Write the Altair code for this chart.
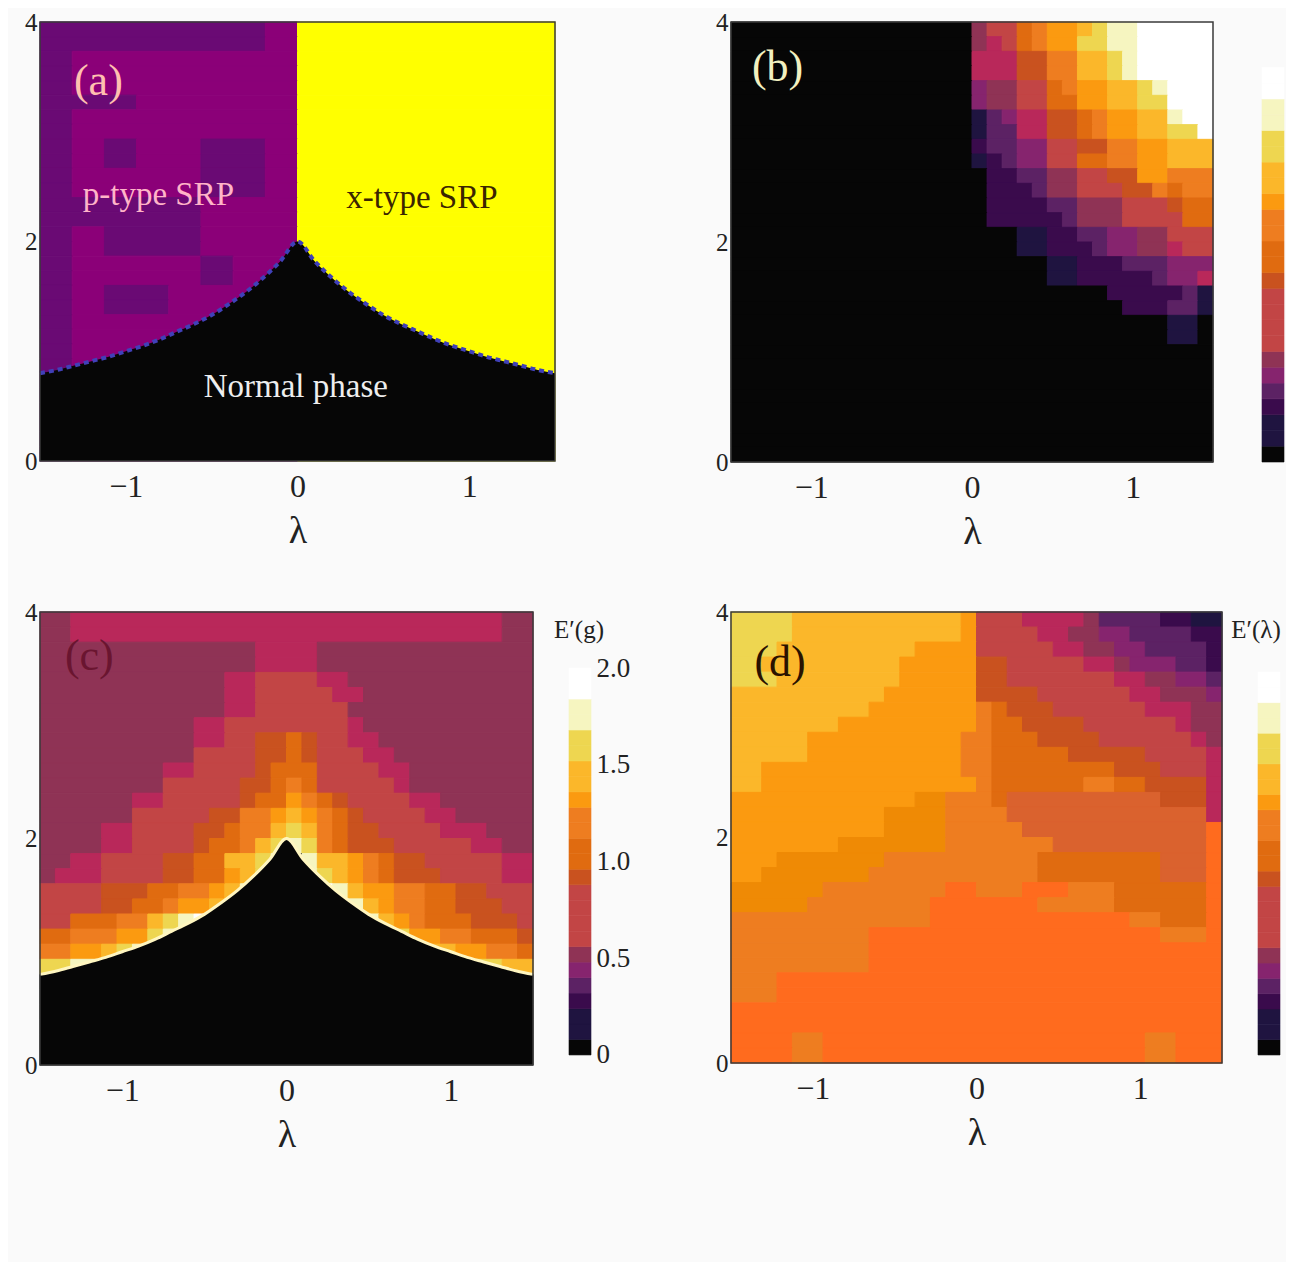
import altair as alt
import pandas as pd

PALETTE = {
    "0": "#060606", "1": "#1f1440", "2": "#3a0b4c", "3": "#5c2264", "4": "#86246e",
    "5": "#8f3355", "6": "#b9285a", "7": "#c24545", "8": "#c9521f", "9": "#e06b10",
    "a": "#ee7d20", "b": "#fb9a10", "c": "#fbb72a", "d": "#eed650", "e": "#f6f5c0",
    "f": "#ffffff", "g": "#ff6b1e", "h": "#ef8a05", "i": "#da622e",
    "p": "#6a0a74", "q": "#8b0078", "y": "#ffff00",
}
BG = "#fafafa"
FONT = "Liberation Serif"
INK = "#222222"

A_LEFT = [
    "ppppppppppppppqq", "ppppppppppppppqq", "ppqqqqqqqqqqqqqq", "ppqqqqqqqqqqqqqq",
    "ppqqqqqqqqqqqqqq", "ppppppqqqqqqqqqq", "ppqqqqqqqqqqqqqq", "ppqqqqqqqqqqqqqq",
    "ppqqppqqqqppppqq", "ppqqppqqqqppppqq", "ppqqqqqqqqppppqq", "ppqqqqqqqqppppqq",
    "ppppppppppqqqqqq", "ppppppppppqqqqqq", "ppqqppppppqqqqqq", "ppqqppppppqqqqqq",
    "ppqqqqqqqqppqqqq", "ppqqqqqqqqppqqqq", "ppqqppppqqqqqqqq", "ppqqppppqqqqqqqq",
    "ppqqqqqqqqqqqqqq", "ppqqqqqqqqqqqqqq", "ppqqqqqqqqqqqqqq", "ppqqqqqqqqqqqqqq",
    "ppqqqqqqqqqqqqqq", "ppqqqqqqqqqqqqqq", "ppqqqqqqqqqqqqqq", "ppqqqqqqqqqqqqqq",
    "ppqqqqqqqqqqqqqq", "ppqqqqqqqqqqqqqq",
]
A_RIGHT = "yyyyyyyyyyyyyyyy"

B_RIGHT = [
    "5779abbcdeefffff", "5679abbddeefffff", "66688aaccdefffff", "66688aaccdefffff",
    "455779abbccdefff", "4557799bbccddfff", "13466889abbcceff", "13366889abbccddf",
    "233447788aabbccc", "123447799aabbccc", "02233557788bbaaa", "022235577788a9aa",
    "0222233555777899", "0222223555777799", "0001122334455777", "0001122234455677",
    "0000011222333444", "0000011222223446", "0000000002222231", "0000000000222331",
    "0000000000000110", "0000000000000110",
]

C_ROWS = [
    "55666666666666666666666666666655", "55666666666666666666666666666655",
    "55555555555555666655555555555555", "55555555555555666655555555555555",
    "55555555555566777766555555555555", "55555555555566777776655555555555",
    "55555555555566777777555555555555", "55555555556677777777655555555555",
    "55555555556677889877665555555555", "55555555557777889877766555555555",
    "55555555667777899977776655555555", "5555555577777889a977777655555555",
    "5555556677777899ba98777766555555", "5555557777788aabcba9877776655555",
    "5555667777889aacdca9887777666555", "5555667777899acdeda9888777776655",
    "556677778899ccde0eccba9887777766", "566677778899bcde0edcba9888777766",
    "777788899aabce0000fecbbaa9988777", "77778899abbce000000fecbaa9988877",
    "77999aacdef000000000fecba9998887", "99aaabbdef00000000000fedbbaa9998",
    "aabbcdef00000000000000fedccbbaa9", "ddeeff000000000000000000ffeeddcc",
]

D_ROWS = [
    "ddddcccccccccccb7776666533332211", "ddddcccccccccccb7777665544333322",
    "dddcccccccccbbbb7777766554433332", "ddcccccccccbbbbb8877777665444332",
    "dddccccccccbbbbb8877777776655443", "ccccccccccbbbbbb8888777777665554",
    "cccccccccbbbbbbba988877777766655", "cccccccbbbbbbbbba998888777777655",
    "cccccbbbbbbbbbbaa999888877777765", "cccccbbbbbbbbbbaa999998888877776",
    "ccbbbbbbbbbbbbbaa999999998887776", "ccbbbbbbbbbbbbbba999999aa9988886",
    "bbbbbbbbbbbbhhaaa9iiiiiiiiii8886", "bbbbbbbbbbhhhhaaaaiiiiiiiiiiiii6",
    "bbbbbbbbbbhhhhaaaaaiiiiiiiiiiiig", "bbbbbbbhhhhhhhaaaaaaaiiiiiiiiiig",
    "bbbhhhhhhhaaaaaaaaaa99999999iiig", "bbhhhhhhhaaaaaaaaaaa99999999iiig",
    "hhhhhhaaaaaaaaggaaagggaaa999999g", "hhhhhaaaaaaaagggggggaaaaa999999g",
    "aaaaaaaaaaaaagggggggggggggaa999g", "aaaaaaaaagggggggggggggggggggaaag",
    "aaaaaaaaaggggggggggggggggggggggg", "aaaaaaaaaggggggggggggggggggggggg",
    "aaaggggggggggggggggggggggggggggg", "aaaggggggggggggggggggggggggggggg",
    "gggggggggggggggggggggggggggggggg", "gggggggggggggggggggggggggggggggg",
    "ggggaagggggggggggggggggggggaaggg", "ggggaagggggggggggggggggggggaaggg",
]

CBAR_LEVELS = "01123457777899aabccddeeff"

BOUNDARY_L = [-1.5, -1.4, -1.3, -1.2, -1.1, -1.0, -0.9, -0.8, -0.7, -0.6, -0.5, -0.4, -0.3, -0.2, -0.1, 0.0,
              0.1, 0.2, 0.3, 0.4, 0.5, 0.6, 0.7, 0.8, 0.9, 1.0, 1.1, 1.2, 1.3, 1.4, 1.5]
BOUNDARY_G = [0.80, 0.83, 0.87, 0.91, 0.95, 1.00, 1.05, 1.11, 1.18, 1.25, 1.33, 1.43, 1.54, 1.67, 1.82, 2.00,
              1.82, 1.67, 1.54, 1.43, 1.33, 1.25, 1.18, 1.11, 1.05, 1.00, 0.95, 0.91, 0.87, 0.83, 0.80]

a_rows = [r + A_RIGHT for r in A_LEFT]
b_rows = ["0" * 16 + r for r in B_RIGHT] + ["0" * 32] * (30 - len(B_RIGHT))
c_rows = C_ROWS + ["0" * 32] * (30 - len(C_ROWS))
d_rows = D_ROWS

ALL_KEYS = list(PALETTE)
color_scale = alt.Scale(domain=ALL_KEYS, range=[PALETTE[k] for k in ALL_KEYS])


def grid_frame(rows):
    ncol, nrow = 32, 30
    out = []
    for i, row in enumerate(rows):
        row = row[:ncol]
        j = 0
        while j < len(row):
            e = j
            while e + 1 < len(row) and row[e + 1] == row[j]:
                e += 1
            out.append({
                "l0": -1.5 + 3 * j / ncol, "l1": -1.5 + 3 * (e + 1) / ncol,
                "g0": 4 - 4 * (i + 1) / nrow, "g1": 4 - 4 * i / nrow, "k": row[j],
            })
            j = e + 1
    return pd.DataFrame(out)


X = alt.Scale(domain=[-1.5, 1.5], nice=False, zero=False)
Y = alt.Scale(domain=[0, 4], nice=False, zero=False)
x_axis = alt.Axis(values=[-1, 0, 1], labelExpr="datum.value < 0 ? '\u2212' + abs(datum.value) : '' + datum.value",
                  title="\u03bb", titleFont=FONT, titleFontSize=38, titleFontWeight="normal", titleColor=INK,
                  labelFont=FONT, labelFontSize=32, labelColor=INK, labelPadding=10, titlePadding=10,
                  domain=False, ticks=False, grid=False)
y_axis = alt.Axis(values=[0, 2, 4], title=None, labelFont=FONT, labelFontSize=25, labelColor=INK,
                  labelPadding=3, domain=False, ticks=False, grid=False)
enc_x = alt.X("l:Q", scale=X, axis=x_axis)
enc_y = alt.Y("g:Q", scale=Y, axis=y_axis)


def heat(rows):
    return alt.Chart(grid_frame(rows)).mark_rect(strokeWidth=1.0).encode(
        x=alt.X("l0:Q", scale=X, axis=x_axis),
        x2="l1:Q",
        y=alt.Y("g0:Q", scale=Y, axis=y_axis),
        y2="g1:Q",
        fill=alt.Fill("k:N", scale=color_scale, legend=None),
        stroke=alt.Stroke("k:N", scale=color_scale, legend=None),
    )


boundary = pd.DataFrame({"l": BOUNDARY_L, "g": BOUNDARY_G})
frame_df = pd.DataFrame({"l0": [-1.5], "l1": [1.5], "g0": [0], "g1": [4]})


def frame():
    return alt.Chart(frame_df).mark_rect(fillOpacity=0, stroke="#3a3a3a", strokeWidth=1.5).encode(
        x=alt.X("l0:Q", scale=X, axis=x_axis), x2="l1:Q",
        y=alt.Y("g0:Q", scale=Y, axis=y_axis), y2="g1:Q")


def black_region():
    return alt.Chart(boundary).mark_area(color=PALETTE["0"], interpolate="monotone").encode(
        x=enc_x, y=enc_y, y2=alt.Y2(datum=0))


def boundary_line(color, width, dash=None):
    kw = {"strokeDash": dash} if dash else {}
    return alt.Chart(boundary).mark_line(color=color, strokeWidth=width, interpolate="monotone", **kw).encode(
        x=enc_x, y=enc_y)


def label(text, lam, g, color, size=33):
    return alt.Chart(pd.DataFrame({"l": [lam], "g": [g], "t": [text]})).mark_text(
        font=FONT, fontSize=size, color=color, align="center", baseline="middle").encode(
        x=enc_x, y=enc_y, text="t:N")


def colorbar(width, height, dom, with_axis=False, caption=None, cap_x=0):
    n = len(CBAR_LEVELS)
    df = pd.DataFrame({"v0": [2 * i / n for i in range(n)], "v1": [2 * (i + 1) / n for i in range(n)],
                       "k": list(CBAR_LEVELS), "x0": [0] * n, "x1": [1] * n})
    ax = alt.Axis(values=[0, 0.5, 1.0, 1.5, 2.0], orient="right", title=None, labelFont=FONT, labelFontSize=27,
                  labelColor=INK, labelPadding=5, domain=False, ticks=False, grid=False,
                  labelExpr="datum.value == 0 ? '0' : format(datum.value, '.1f')") if with_axis else None
    bar = alt.Chart(df).mark_rect(strokeWidth=0.6).encode(
        x=alt.X("x0:Q", axis=None, scale=alt.Scale(domain=[0, 1])), x2="x1:Q",
        y=alt.Y("v0:Q", axis=ax, scale=alt.Scale(domain=dom, nice=False, zero=False)), y2="v1:Q",
        fill=alt.Fill("k:N", scale=color_scale, legend=None),
        stroke=alt.Stroke("k:N", scale=color_scale, legend=None))
    layers = [bar]
    if caption:
        layers.append(alt.Chart(pd.DataFrame({"t": [caption]})).mark_text(
            font=FONT, fontSize=25, color=INK, align="center", baseline="middle").encode(
            text="t:N", x=alt.value(cap_x), y=alt.value(18)))
    return alt.layer(*layers).properties(width=width, height=height)


panel_a = alt.layer(
    heat(a_rows), black_region(), boundary_line("#4040b8", 4, [5, 4]),
    label("(a)", -1.16, 3.45, "#ffc0b0", 44),
    label("p-type SRP", -0.81, 2.42, "#ffb4c8"),
    label("x-type SRP", 0.725, 2.40, "#3a2500"),
    label("Normal phase", -0.01, 0.67, "#eeeeee"),
    frame(),
).properties(width=515, height=439)

panel_b = alt.layer(heat(b_rows), label("(b)", -1.21, 3.58, "#f2f0c0", 44), frame()).properties(width=482, height=440)

panel_c = alt.layer(
    heat(c_rows), black_region(), boundary_line("#fff6c0", 3),
    label("(c)", -1.2, 3.6, "#6a1530", 44), frame(),
).properties(width=493, height=453)

panel_d = alt.layer(heat(d_rows), label("(d)", -1.2, 3.55, "#2a1200", 44), frame()).properties(width=491, height=451)

cbar_b = colorbar(22, 440, [0, 2.23])
cbar_c = colorbar(22, 453, [-0.052, 2.29], with_axis=True, caption="E\u2032(g)", cap_x=10)
cbar_d = colorbar(22, 451, [-0.042, 2.313], caption="E\u2032(\u03bb)", cap_x=-2)

row1 = alt.hconcat(alt.hconcat(panel_a, panel_b, spacing=152), cbar_b, spacing=47)
row2 = alt.hconcat(alt.hconcat(panel_c, cbar_c, spacing=15),
                   panel_d, spacing=85)
row2 = alt.hconcat(row2, cbar_d, spacing=8)

chart = alt.vconcat(row1, row2, spacing=49).properties(
    background=BG, autosize=alt.AutoSizeParams(type="none"),
    padding={"left": 32, "top": 14, "right": 1246, "bottom": 1240}
).configure_view(stroke=None).configure_concat(spacing=0)

chart.save("out.html", embed_options={"renderer": "svg", "actions": False})
